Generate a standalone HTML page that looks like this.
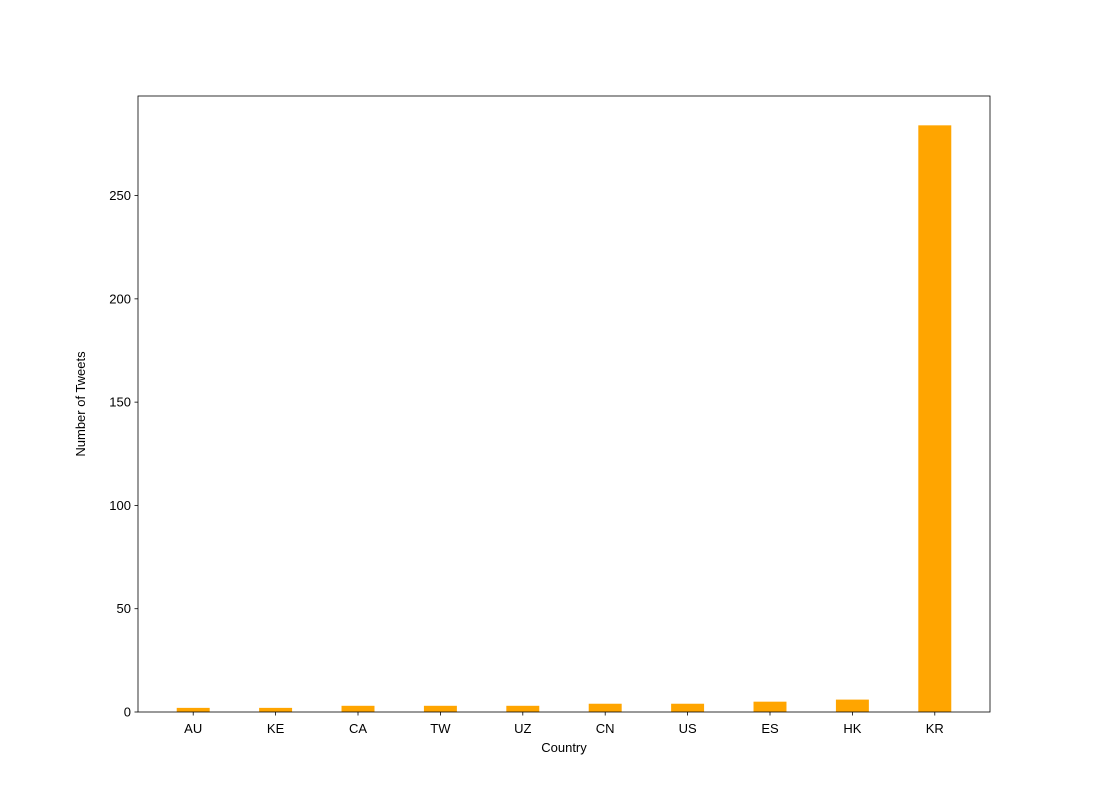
<!DOCTYPE html>
<html><head><meta charset="utf-8"><style>
body{margin:0;background:#fff;font-family:"Liberation Sans","DejaVu Sans",sans-serif}
</style></head><body>
<svg id="c" width="1100" height="800" xmlns="http://www.w3.org/2000/svg"></svg>
<script>
const categories=["AU","KE","CA","TW","UZ","CN","US","ES","HK","KR"];
const tweetCounts=[2,2,3,3,3,4,4,5,6,284];
const yTicks=[0,50,100,150,200,250];
const NS="http://www.w3.org/2000/svg";
const svg=document.getElementById('c');
const L=138,R=990,T=96,B=712;
const xMin=-0.67,xMax=categories.length-1+0.67;
const yMax=Math.max(...tweetCounts)*1.05;
const xs=v=>L+(v-xMin)/(xMax-xMin)*(R-L);
const ys=v=>B-v/yMax*(B-T);
function mk(tag,attrs,text){const e=document.createElementNS(NS,tag);for(const k in attrs)e.setAttribute(k,attrs[k]);if(text!==undefined)e.textContent=text;svg.appendChild(e);return e;}
const bw=(xs(0.4)-xs(0));
categories.forEach((c,i)=>{
 const r=mk('rect',{x:xs(i)-bw/2,y:ys(tweetCounts[i]),width:bw,height:B-ys(tweetCounts[i]),fill:'#ffa500'});
 
 
 const t=mk('line',{x1:xs(i),x2:xs(i),y1:B,y2:B+3.5,stroke:'#000','stroke-width':0.8});
 
 
 const l=mk('text',{x:xs(i),y:B+21,'text-anchor':'middle','font-size':13},c);
 
 
});
yTicks.forEach(v=>{
 const t=mk('line',{x1:L-3.5,x2:L,y1:ys(v),y2:ys(v),stroke:'#000','stroke-width':0.8});
 
 
 const l=mk('text',{x:L-7,y:ys(v)+4.5,'text-anchor':'end','font-size':13},String(v));
 
 
});
const f=mk('rect',{x:L,y:T,width:R-L,height:B-T,fill:'none',stroke:'#000','stroke-width':0.8});


const xt=mk('text',{x:(L+R)/2,y:752,'text-anchor':'middle','font-size':13},'Country');


const yt=mk('text',{x:0,y:0,'text-anchor':'middle','font-size':13,transform:`translate(85,${(T+B)/2}) rotate(-90)`},'Number of Tweets');


</script>
</body></html>
